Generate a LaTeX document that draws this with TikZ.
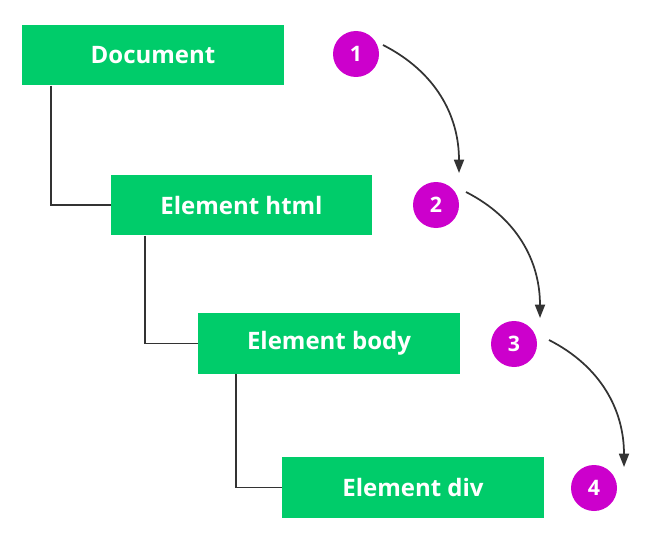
\documentclass[tikz,border=0pt]{standalone}
\usepackage{fontspec}
\setmainfont{Open Sans}
\usetikzlibrary{arrows.meta, positioning, calc}
\definecolor{boxgreen}{RGB}{0,204,106}
\definecolor{numpurple}{RGB}{204,0,204}
\definecolor{linegray}{RGB}{51,51,51}

\begin{document}
\begin{tikzpicture}[x=0.75pt, y=0.75pt,
    box/.style={rectangle, fill=boxgreen, text=white, font=\bfseries\fontsize{18}{21}\selectfont, minimum width=196pt, minimum height=45.5pt, inner sep=0pt},
    num/.style={circle, fill=numpurple, text=white, font=\bfseries\fontsize{16}{18}\selectfont, minimum size=34.5pt, inner sep=0pt},
    tree/.style={draw=linegray, line width=1.4pt},
    flow/.style={draw=linegray, line width=1.3pt, -{Triangle[length=10pt, width=7.5pt]}}
]
\useasboundingbox (0,0) rectangle (650,-542);

% Boxes
\node[box] (doc) at (153,-55) {Document};
\node[box] (html) at (241.5,-205) {Element html};
\node[box] (body) at (329,-343.5) {Element body};
\node[box] (div) at (413,-487.5) {Element div};

% Order of the steps
\node[num] (n1) at (356,-54) {1};
\node[num] (n2) at (436,-205) {2};
\node[num] (n3) at (514,-344) {3};
\node[num] (n4) at (594,-488) {4};

% Tree lines
\draw[tree] ($(doc.south west)+(29,0)$) |- (html.west);
\draw[tree] ($(html.south west)+(34,0)$) |- (body.west);
\draw[tree] ($(body.south west)+(38,0)$) |- (div.west);

% Arrows between the steps
\draw[flow] ([shift={(27,9)}]n1.center) to[out=-27, in=90] ([shift={(23,32)}]n2.center);
\draw[flow] ([shift={(30,13)}]n2.center) to[out=-27, in=90] ([shift={(26,26)}]n3.center);
\draw[flow] ([shift={(35,4)}]n3.center) to[out=-27, in=90] ([shift={(30,21)}]n4.center);

\end{tikzpicture}
\end{document}
